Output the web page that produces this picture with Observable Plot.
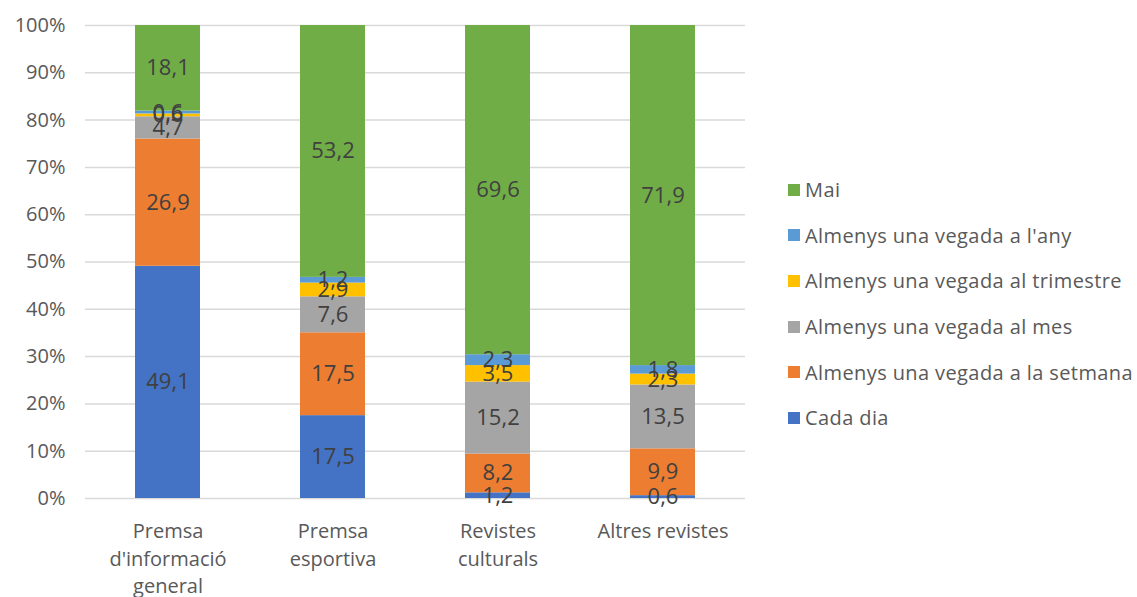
<!DOCTYPE html>
<html><head><meta charset="utf-8">
<script src="https://cdn.jsdelivr.net/npm/d3@7"></script>
<script src="https://cdn.jsdelivr.net/npm/@observablehq/plot@0.6"></script>
<style>
body{margin:0;background:#fff;font-family:"Open Sans",sans-serif;}
#wrap{position:relative;width:1137px;height:597px;}
#legend{position:absolute;left:788px;top:167px;font-size:20px;letter-spacing:0.4px;color:#595959;}
.item{display:flex;align-items:center;height:45.6px;}
.sw{width:12px;height:12px;margin-right:5px;}
</style></head><body>
<div id="wrap"><div id="chart"></div><div id="legend"></div></div>
<script>
const categories = ["Premsa d'informació general","Premsa esportiva","Revistes culturals","Altres revistes"];
const categoryLabels = ["Premsa\nd'informació\ngeneral","Premsa\nesportiva","Revistes\nculturals","Altres revistes"];
const series = ["Cada dia","Almenys una vegada a la setmana","Almenys una vegada al mes","Almenys una vegada al trimestre","Almenys una vegada a l'any","Mai"];
const colors = ["#4472C4","#ED7D31","#A5A5A5","#FFC000","#5B9BD5","#70AD47"];
const cadaDia   = [49.1,17.5,1.2,0.6];
const setmana   = [26.9,17.5,8.2,9.9];
const mes       = [4.7,7.6,15.2,13.5];
const trimestre = [0.6,2.9,3.5,2.3];
const any       = [0.6,1.2,2.3,1.8];
const mai       = [18.1,53.2,69.6,71.9];
const yTicks = [0,0.1,0.2,0.3,0.4,0.5,0.6,0.7,0.8,0.9,1];

const valuesBySeries = [cadaDia,setmana,mes,trimestre,any,mai];
const data = [];
series.forEach((s,si)=>categories.forEach((c,ci)=>data.push({cat:c,series:s,value:valuesBySeries[si][ci]})));

const fmt = v => v.toFixed(1).replace(".",",");
const stackOpts = {x:"cat", y:"value", z:"series", order: series, offset:"normalize"};

const chart = Plot.plot({
  width:1137, height:597,
  marginLeft:85, marginRight:392, marginTop:25, marginBottom:99,
  style:{fontFamily:"Open Sans, sans-serif", fontSize:"20px", color:"#595959", background:"#fff"},
  x:{domain:categories, paddingInner:0.606, paddingOuter:0.303, label:null},
  y:{domain:[0,1], label:null},
  color:{domain:series, range:colors},
  marks:[
    Plot.ruleY(yTicks,{stroke:"#d9d9d9", strokeWidth:1.5}),
    Plot.barY(data, Plot.stackY({...stackOpts, fill:"series"})),
    Plot.text(data, Plot.stackY({...stackOpts, text:d=>fmt(d.value), fill:"#404040", fontSize:22, style:"letter-spacing:0.6px"})),
    Plot.axisY(yTicks, {tickSize:0, tickPadding:20, fontSize:20, fill:"#595959", tickFormat:d=>Math.round(d*100)+"%", label:null}),
    Plot.axisX({tickSize:0, tickPadding:20, lineHeight:1.38, fontSize:20, fill:"#595959", tickFormat:d=>categoryLabels[categories.indexOf(d)], label:null, style:"letter-spacing:0.9px"})
  ]
});
document.getElementById("chart").appendChild(chart);

const lg = document.getElementById("legend");
for (let i = series.length-1; i>=0; i--) {
  const it = document.createElement("div"); it.className="item";
  it.innerHTML = `<div class="sw" style="background:${colors[i]}"></div><span>${series[i]}</span>`;
  lg.appendChild(it);
}
</script></body></html>
